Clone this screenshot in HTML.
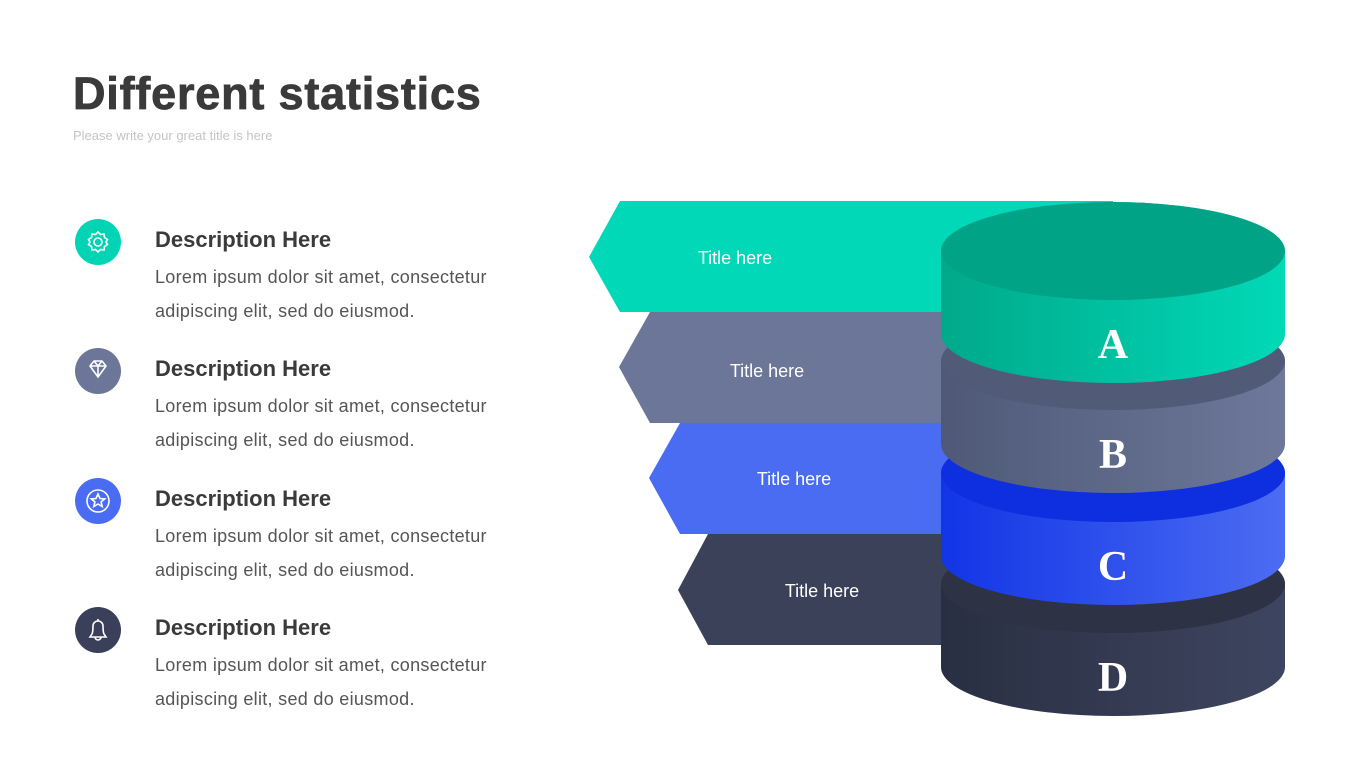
<!DOCTYPE html>
<html><head><meta charset="utf-8"><style>
body{margin:0;width:1365px;height:768px;background:#fff;overflow:hidden;position:relative;font-family:"Liberation Sans",sans-serif}
.t{position:absolute;left:73px;top:68px;font-size:45px;font-weight:bold;color:#3a3a3a;letter-spacing:0.8px;-webkit-text-stroke:0.8px #3a3a3a}
.s{position:absolute;left:73px;top:128px;font-size:13px;color:#c4c4c4}
.h{position:absolute;left:155px;font-size:22px;font-weight:bold;color:#3a3a3a}
.p{position:absolute;left:155px;font-size:18px;color:#555;line-height:34px;letter-spacing:0.3px}
</style></head><body>
<div class="t">Different statistics</div>
<div class="s">Please write your great title is here</div>

<div class="h" style="top:227px">Description Here</div>
<div class="p" style="top:260px">Lorem ipsum dolor sit amet, consectetur<br>adipiscing elit, sed do eiusmod.</div>
<div class="h" style="top:356px">Description Here</div>
<div class="p" style="top:389px">Lorem ipsum dolor sit amet, consectetur<br>adipiscing elit, sed do eiusmod.</div>
<div class="h" style="top:486px">Description Here</div>
<div class="p" style="top:519px">Lorem ipsum dolor sit amet, consectetur<br>adipiscing elit, sed do eiusmod.</div>
<div class="h" style="top:615px">Description Here</div>
<div class="p" style="top:648px">Lorem ipsum dolor sit amet, consectetur<br>adipiscing elit, sed do eiusmod.</div>

<svg width="1365" height="768" style="position:absolute;left:0;top:0">
<defs>
<linearGradient id="ga" x1="0" x2="1"><stop offset="0" stop-color="#00a98a"/><stop offset="1" stop-color="#00d9b7"/></linearGradient>
<linearGradient id="gb" x1="0" x2="1"><stop offset="0" stop-color="#4f5977"/><stop offset="1" stop-color="#6d789b"/></linearGradient>
<linearGradient id="gc" x1="0" x2="1"><stop offset="0" stop-color="#1235e6"/><stop offset="1" stop-color="#4c6cf2"/></linearGradient>
<linearGradient id="gd" x1="0" x2="1"><stop offset="0" stop-color="#292f42"/><stop offset="1" stop-color="#3e4560"/></linearGradient>
</defs>
<circle cx="98" cy="242" r="23" fill="#00d4b4"/>
<g fill="none" stroke="#fff" stroke-width="1.6">
<circle cx="98" cy="242" r="4"/>
<path d="M98 232 l2.5 2.5 3.5-0.5 0.5 3.5 3 2-1.5 2.5 1.5 2.5-3 2-0.5 3.5-3.5-0.5-2.5 2.5-2.5-2.5-3.5 0.5-0.5-3.5-3-2 1.5-2.5-1.5-2.5 3-2 0.5-3.5 3.5 0.5z"/>
</g>
<circle cx="98" cy="371" r="23" fill="#6b7699"/>
<g fill="none" stroke="#fff" stroke-width="1.6"><path d="M90 366 l4-5h8l4 5-8 11z M90 366h16 M94 361l4 5 4-5 M98 366v11"/></g>
<circle cx="98" cy="501" r="23" fill="#4a6cf2"/>
<g fill="none" stroke="#fff" stroke-width="1.6"><circle cx="98" cy="501" r="11"/><path d="M98 494l2 4.5 4.7.4-3.6 3 1.1 4.6-4.2-2.5-4.2 2.5 1.1-4.6-3.6-3 4.7-.4z"/></g>
<circle cx="98" cy="630" r="23" fill="#3b405a"/>
<g fill="none" stroke="#fff" stroke-width="1.6"><path d="M98 619v2 M92 634c1-2 1-5 1-8a5 5 0 0 1 10 0c0 3 0 6 1 8l2 3h-16z M95 637a3 3 0 0 0 6 0"/></g>

<polygon points="620,201 1113,201 1113,312 620,312 589,257" fill="#00d8b8"/>
<polygon points="650,312 1000,312 1000,423 650,423 619,367" fill="#6b7699"/>
<polygon points="680,423 1000,423 1000,534 680,534 649,478" fill="#4a6cf2"/>
<polygon points="708,534 1000,534 1000,645 708,645 678,590" fill="#3c415a"/>
<g fill="#fff" font-size="18" font-family="Liberation Sans,sans-serif" text-anchor="middle">
<text x="735" y="264">Title here</text>
<text x="767" y="377">Title here</text>
<text x="794" y="485">Title here</text>
<text x="822" y="597">Title here</text>
</g>

<path d="M941 584 A172 49 0 0 1 1285 584 V667 A172 49 0 0 1 941 667Z" fill="url(#gd)"/>
<ellipse cx="1113" cy="584" rx="172" ry="49" fill="#2d3244"/>
<path d="M941 473 A172 49 0 0 1 1285 473 V556 A172 49 0 0 1 941 556Z" fill="url(#gc)"/>
<ellipse cx="1113" cy="473" rx="172" ry="49" fill="#0d2fe0"/>
<path d="M941 361 A172 49 0 0 1 1285 361 V444 A172 49 0 0 1 941 444Z" fill="url(#gb)"/>
<ellipse cx="1113" cy="361" rx="172" ry="49" fill="#515b78"/>
<path d="M941 251 A172 49 0 0 1 1285 251 V334 A172 49 0 0 1 941 334Z" fill="url(#ga)"/>
<ellipse cx="1113" cy="251" rx="172" ry="49" fill="#00a386"/>
<g fill="#fff" font-size="42" font-weight="bold" font-family="Liberation Serif,serif" text-anchor="middle">
<text x="1113" y="358">A</text>
<text x="1113" y="468">B</text>
<text x="1113" y="580">C</text>
<text x="1113" y="691">D</text>
</g>
</svg>
</body></html>
